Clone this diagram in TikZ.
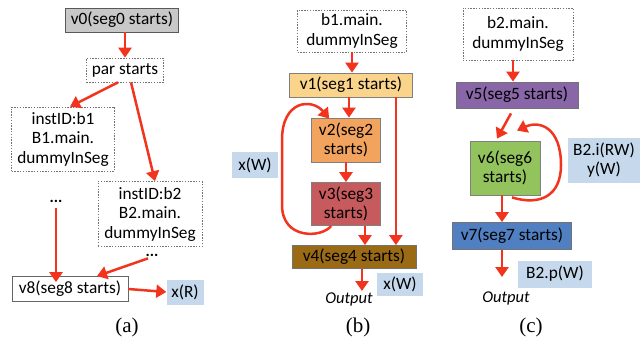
\documentclass[tikz,border=0pt]{standalone}
\usepackage{fontspec}
\setmainfont{Carlito}
\newfontfamily\capfont{Liberation Serif}
\usetikzlibrary{arrows.meta}
\definecolor{arrred}{HTML}{F2331E}
\definecolor{labblue}{HTML}{C5D8EC}
\definecolor{cgray}{HTML}{C8C8C8}
\definecolor{cyel}{HTML}{FAD48A}
\definecolor{cora}{HTML}{F2A35E}
\definecolor{cred}{HTML}{C75A5C}
\definecolor{cbrown}{HTML}{9A6A14}
\definecolor{cpur}{HTML}{8966A8}
\definecolor{cgreen}{HTML}{92C35C}
\definecolor{cblue}{HTML}{5080C2}
\tikzset{
  txt/.style={font=\fontsize{17.3}{19.5}\selectfont, align=center, inner sep=0pt},
  box/.style={txt, draw=black!60, line width=0.8pt},
  dbox/.style={txt, draw=black!55, line width=0.7pt, dash pattern=on 1.4pt off 1.4pt},
  lab/.style={txt, fill=labblue},
  arr/.style={draw=arrred, line width=2.5pt, -{Triangle[width=13pt,length=10pt]}},
  captext/.style={font=\capfont\fontsize{21}{24}\selectfont, inner sep=0pt},
  outp/.style={font=\fontsize{16.5}{19}\selectfont\itshape, inner sep=0pt}
}
\begin{document}
\begin{tikzpicture}[x=1pt,y=-1pt]
\useasboundingbox (0,0) rectangle (640,343);
% ---------- (a)
\node[box, fill=cgray, draw=black!65, minimum width=113, minimum height=24] (v0) at (122,20) {v0(seg0 starts)};
\node[dbox, minimum width=77, minimum height=24] (par) at (125,70) {par starts};
\node[dbox, minimum width=103, minimum height=64] (b1) at (63,139) {instID:b1\\B1.main.\\dummyInSeg};
\node[dbox, minimum width=104, minimum height=65] (b2) at (150,214) {instID:b2\\B2.main.\\dummyInSeg};
\node[txt, font=\bfseries\fontsize{16}{18}\selectfont] (d1) at (56,201) {...};
\node[txt, font=\bfseries\fontsize{16}{18}\selectfont] (d2) at (152,255) {...};
\node[box, fill=white, minimum width=116, minimum height=25] (v8) at (70,289) {v8(seg8 starts)};
\node[lab, minimum width=37, minimum height=25] (xR) at (185,292) {x(R)};
\node[captext] (ca) at (127,327) {(a)};
\draw[arr] (par.north |- v0.south) -- (par.north);
\draw[arr] ([xshift=-7pt]par.south) -- ([xshift=7pt]b1.north);
\draw[arr] ([xshift=6pt]par.south) -- ([xshift=5pt]b2.north);
\draw[arr] ([yshift=-6pt]d1.south) -- ([yshift=-6pt]d1.south |- v8.north);
\draw[arr] ([xshift=-4pt,yshift=-2pt]d2.south) -- ([xshift=27pt]v8.north);
\draw[arr] (v8.east) -- (xR.west);
% ---------- (b)
\node[dbox, minimum width=109, minimum height=42] (b1m) at (352,31) {b1.main.\\dummyInSeg};
\node[box, fill=cyel, draw=black!50, minimum width=123, minimum height=24] (v1) at (351,85) {v1(seg1 starts)};
\node[box, fill=cora, draw=black!50, minimum width=69, minimum height=44] (v2) at (346,140) {v2(seg2\\starts)};
\node[box, fill=cred, draw=black!50, minimum width=69, minimum height=43] (v3) at (346,204) {v3(seg3\\starts)};
\node[lab, minimum width=46, minimum height=26] (xW1) at (255,165) {x(W)};
\node[box, fill=cbrown, draw=black!55, minimum width=124, minimum height=23] (v4) at (354,257) {v4(seg4 starts)};
\node[outp] (o1) at (349,299) {Output};
\node[lab, minimum width=46, minimum height=23] (xW2) at (400,284) {x(W)};
\node[captext] (cb) at (358,327) {(b)};
\coordinate (o1a) at (362,291);
\draw[arr] (b1m.south) -- (b1m.south |- v1.north);
\draw[arr] ([xshift=3pt]v2.north |- v1.south) -- ([xshift=3pt]v2.north);
\draw[arr] (v2.south) -- (v3.north);
\draw[arr] ([xshift=19pt]v3.south) -- ([xshift=19pt]v3.south |- v4.north);
\draw[arr] ([xshift=-17pt]v1.south east) -- ([xshift=-17pt]v1.south east |- v4.north);
\draw[arr] (o1a |- v4.south) -- (o1a);
\draw[arr] ([xshift=20pt]v3.south west) .. controls (322,238) and (282,240) .. (282,205)
   -- (282,140) .. controls (282,100) and (312,98) .. ([xshift=18pt,yshift=-1pt]v2.north west);
% ---------- (c)
\node[dbox, minimum width=110, minimum height=52] (b2m) at (518,34) {b2.main.\\dummyInSeg};
\node[box, fill=cpur, draw=black!55, minimum width=122, minimum height=26] (v5) at (517,95) {v5(seg5 starts)};
\node[box, fill=cgreen, draw=black!50, minimum width=70, minimum height=54] (v6) at (505,168) {v6(seg6\\starts)};
\node[lab, minimum width=73, minimum height=45] (bl) at (604,160) {B2.i(RW)\\y(W)};
\node[box, fill=cblue, draw=black!55, minimum width=119, minimum height=27] (v7) at (512,236) {v7(seg7 starts)};
\node[outp] (o2) at (506,298) {Output};
\node[lab, minimum width=74, minimum height=27] (bp) at (555,274) {B2.p(W)};
\node[captext] (cc) at (531,327) {(c)};
\coordinate (o2a) at (502,277);
\draw[arr] ([xshift=-5pt]b2m.south) -- ([xshift=-5pt]b2m.south |- v5.north);
\draw[arr] ([xshift=-6pt,yshift=-5pt]v5.south) -- ([xshift=-8pt,yshift=2pt]v6.north);
\draw[arr] ([xshift=-3pt]v6.south) -- ([xshift=-3pt]v6.south |- v7.north);
\draw[arr] (o2a |- v7.south) -- (o2a);
\draw[arr] ([xshift=7pt,yshift=-2pt]v6.south) .. controls (540,206) and (561,196) .. (561,165)
   .. controls (561,128) and (540,120) .. ([xshift=12pt,yshift=10pt]v6.north);
\end{tikzpicture}
\end{document}
